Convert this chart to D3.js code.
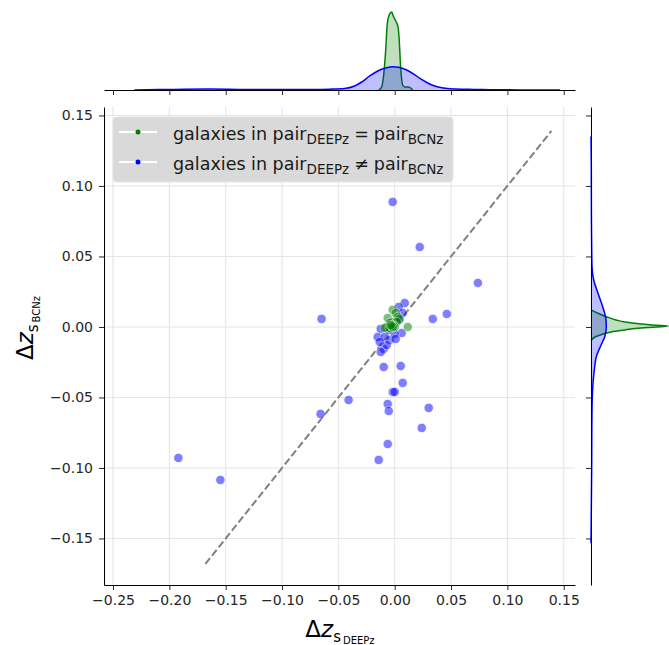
<!DOCTYPE html>
<html>
<head>
<meta charset="utf-8">
<script src="https://cdn.jsdelivr.net/npm/d3@7"></script>
<style>
  body { margin: 0; background: #fff; }
  svg { display: block; font-family: "DejaVu Sans", sans-serif; }
</style>
</head>
<body>
<svg id="chart" width="669" height="645"></svg>
<script>
// scatter points, galaxies whose pair differs (blue)
var blueX = [-0.0018, 0.0222, 0.0738, 0.0462, 0.0338, -0.0649, -0.0658, -0.0409, -0.192, -0.1547,
  -0.0142, -0.0062, -0.0018, 0.0, -0.0062, -0.0053, 0.024, 0.0302, 0.0071, 0.0053,
  -0.0098, -0.0098, 0.0089, 0.0036, 0.0071, -0.0124, -0.0151, -0.0089, -0.0044, -0.0071,
  -0.0124, 0.0062, 0.0, -0.0053, 0.0009, -0.0133, -0.0036, 0.0036];
var blueY = [0.0887, 0.0567, 0.0312, 0.0092, 0.0057, 0.0057, -0.0617, -0.0518, -0.0929, -0.1085,
  -0.0943, -0.083, -0.0461, -0.0461, -0.0546, -0.0596, -0.0716, -0.0574, -0.0397, -0.0277,
  -0.0284, -0.0156, 0.017, 0.0142, 0.0099, -0.0014, -0.0071, -0.0071, -0.0092, -0.0128,
  -0.0177, -0.0043, -0.005, -0.0021, -0.0085, -0.0106, 0.0021, 0.005];

// galaxies whose pair is the same (green)
var greenX = [-0.0018, 0.0009, 0.0027, -0.0062, 0.0044, -0.0027, 0.0018, -0.0044, -0.0018, -0.0036,
  -0.0027, -0.0009, -0.0071, -0.0089, -0.0044, 0.0, 0.0116, -0.0027, -0.0018, -0.0036];
var greenY = [0.0121, 0.0099, 0.0071, 0.0064, 0.0057, 0.0035, 0.0035, 0.0028, 0.0014, 0.0007,
  0.0, 0.0007, 0.0, -0.0007, -0.0007, 0.0, 0.0, 0.0007, 0.0, 0.0014];

// marginal density curves: [position, density]
var kdeTopGreen = [[-0.0142, 0], [-0.0116, 1.08], [-0.0098, 5.38], [-0.008, 14.36], [-0.0067, 23.33],
  [-0.0049, 26.92], [-0.0027, 28.0], [-0.0013, 26.56], [0.0, 25.48], [0.0018, 24.05], [0.0031, 22.25],
  [0.004, 17.95], [0.0049, 10.77], [0.0058, 5.38], [0.0071, 1.79], [0.0089, 1.08], [0.0116, 1.08],
  [0.0142, 0.72], [0.016, 0]];
var kdeTopBlue = [[-0.2311, 0], [-0.2089, 0.14], [-0.1867, 0.29], [-0.1644, 0.32], [-0.1378, 0.22],
  [-0.1022, 0.14], [-0.0756, 0.18], [-0.0578, 0.29], [-0.0444, 0.54], [-0.0356, 1.44], [-0.0293, 2.87],
  [-0.0222, 5.03], [-0.0151, 6.82], [-0.008, 7.9], [-0.0018, 8.36], [0.0044, 8.11], [0.0107, 7.18],
  [0.0169, 5.74], [0.0231, 3.95], [0.0293, 2.51], [0.0356, 1.44], [0.0418, 0.79], [0.0489, 0.43],
  [0.0596, 0.25], [0.0711, 0.22], [0.0844, 0.11], [0.1111, 0.04], [0.1467, 0]];
var kdeRightGreen = [[0.0121, 0], [0.0097, 2.51], [0.0071, 5.74], [0.005, 8.97], [0.0035, 12.2],
  [0.0021, 17.95], [0.0012, 23.33], [0.0007, 27.64], [0.0, 23.33], [-0.0007, 17.95], [-0.0021, 12.2],
  [-0.0035, 7.18], [-0.0055, 3.59], [-0.0071, 1.44], [-0.0099, 0]];
var kdeRightBlue = [[0.135, 0], [0.1137, 0.11], [0.083, 0.14], [0.0617, 0.22], [0.0428, 0.36],
  [0.0333, 0.97], [0.0239, 2.51], [0.0144, 4.2], [0.005, 5.38], [-0.0002, 5.49], [-0.0069, 4.92],
  [-0.014, 3.34], [-0.0211, 1.9], [-0.0282, 1.33], [-0.0399, 0.72], [-0.0518, 0.43], [-0.0754, 0.29],
  [-0.0991, 0.25], [-0.1227, 0.14], [-0.1534, 0]];

var xTicks = [-0.25, -0.20, -0.15, -0.10, -0.05, 0.00, 0.05, 0.10, 0.15];
var yTicks = [-0.15, -0.10, -0.05, 0.00, 0.05, 0.10, 0.15];
var diagonal = [-0.168, 0.139];

var svg = d3.select("#chart");

var x = d3.scaleLinear().domain([-0.258, 0.160]).range([104, 575]);
var y = d3.scaleLinear().domain([-0.183, 0.156]).range([585, 107]);
var topD = d3.scaleLinear().domain([0, 32.3]).range([90, 0]);
var rightD = d3.scaleLinear().domain([0, 32.3]).range([591, 681]);

// grid
var grid = svg.append("g").attr("stroke", "#e6e6e6").attr("stroke-width", 1.1);
grid.selectAll(".gx").data(xTicks).enter().append("line")
  .attr("x1", d => x(d)).attr("x2", d => x(d)).attr("y1", 107).attr("y2", 585);
grid.selectAll(".gy").data(yTicks).enter().append("line")
  .attr("x1", 104).attr("x2", 575).attr("y1", d => y(d)).attr("y2", d => y(d));

// identity line
svg.append("line")
  .attr("x1", x(diagonal[0])).attr("y1", y(diagonal[0]))
  .attr("x2", x(diagonal[1])).attr("y2", y(diagonal[1]))
  .attr("stroke", "#808080").attr("stroke-width", 2)
  .attr("stroke-dasharray", "7.4,3.2");

// scatter
function drawPoints(xs, ys, color) {
  svg.append("g").selectAll("circle").data(xs).enter().append("circle")
    .attr("cx", d => x(d))
    .attr("cy", (d, i) => y(ys[i]))
    .attr("r", 4.7)
    .attr("fill", color)
    .attr("stroke", "#fff")
    .attr("stroke-width", 0.8)
    .attr("opacity", 0.5);
}
drawPoints(blueX, blueY, "blue");
drawPoints(greenX, greenY, "green");

// axes
function styleAxis(g) {
  g.selectAll("text").attr("font-family", "DejaVu Sans").attr("font-size", 14).attr("fill", "#262626");
  g.selectAll("line").attr("stroke", "#262626");
  g.select(".domain").attr("stroke", "#000").attr("stroke-width", 1);
}
var fmt = d3.format(".2f");
svg.append("g").attr("transform", "translate(0,585)")
  .call(d3.axisBottom(x).tickValues(xTicks).tickFormat(fmt).tickSize(5).tickSizeOuter(0).tickPadding(5))
  .call(styleAxis);
svg.append("g").attr("transform", "translate(104,0)")
  .call(d3.axisLeft(y).tickValues(yTicks).tickFormat(fmt).tickSize(5).tickSizeOuter(0).tickPadding(6))
  .call(styleAxis);

// top marginal
var topArea = d3.area().x(d => x(d[0])).y0(topD(0)).y1(d => topD(d[1])).curve(d3.curveMonotoneX);
var topLine = d3.line().x(d => x(d[0])).y(d => topD(d[1])).curve(d3.curveMonotoneX);
[[kdeTopGreen, "green"], [kdeTopBlue, "blue"]].forEach(function (s) {
  svg.append("path").attr("d", topArea(s[0])).attr("fill", s[1]).attr("fill-opacity", 0.25);
  svg.append("path").attr("d", topLine(s[0])).attr("fill", "none").attr("stroke", s[1]).attr("stroke-width", 1.5);
});
svg.append("g").attr("transform", "translate(0,90)")
  .call(d3.axisBottom(x).tickValues(xTicks).tickFormat("").tickSize(5).tickSizeOuter(0))
  .call(styleAxis);

// right marginal
var rightArea = d3.area().y(d => y(d[0])).x0(rightD(0)).x1(d => rightD(d[1])).curve(d3.curveMonotoneY);
var rightLine = d3.line().y(d => y(d[0])).x(d => rightD(d[1])).curve(d3.curveMonotoneY);
[[kdeRightGreen, "green"], [kdeRightBlue, "blue"]].forEach(function (s) {
  var pts = s[0].slice().reverse();
  svg.append("path").attr("d", rightArea(pts)).attr("fill", s[1]).attr("fill-opacity", 0.25);
  svg.append("path").attr("d", rightLine(pts)).attr("fill", "none").attr("stroke", s[1]).attr("stroke-width", 1.5);
});
svg.append("g").attr("transform", "translate(591,0)")
  .call(d3.axisLeft(y).tickValues(yTicks).tickFormat("").tickSize(5).tickSizeOuter(0))
  .call(styleAxis);

// axis labels
function mathLabel(t, sub) {
  t.append("tspan").text("Δ");
  t.append("tspan").attr("font-style", "italic").text("z");
  t.append("tspan").attr("font-size", 15).attr("dy", 5).text("s");
  t.append("tspan").attr("font-size", 10).attr("dy", 2).attr("dx", 2).text(sub);
}
var xl = svg.append("text").attr("x", 340).attr("y", 637)
  .attr("text-anchor", "middle").attr("font-size", 23).attr("fill", "#000");
mathLabel(xl, "DEEPz");
var yl = svg.append("text").attr("transform", "translate(33,328) rotate(-90)")
  .attr("text-anchor", "middle").attr("font-size", 23).attr("fill", "#000");
mathLabel(yl, "BCNz");

// legend
var legend = svg.append("g");
legend.append("rect").attr("x", 113).attr("y", 117).attr("width", 340).attr("height", 65)
  .attr("rx", 4).attr("fill", "#d9d9d9").attr("stroke", "#e4e4e4");
var entries = [["green", "="], ["blue", "≠"]];
entries.forEach(function (e, i) {
  var cy = 132 + i * 30;
  legend.append("line").attr("x1", 119).attr("x2", 157).attr("y1", cy).attr("y2", cy)
    .attr("stroke", "#fff").attr("stroke-width", 2);
  legend.append("circle").attr("cx", 138).attr("cy", cy).attr("r", 2.5).attr("fill", e[0]);
  var t = legend.append("text").attr("x", 173).attr("y", cy + 8).attr("font-size", 17.5).attr("fill", "#1a1a1a");
  t.append("tspan").text("galaxies in pair");
  t.append("tspan").attr("font-size", 13.5).attr("dy", 4).text("DEEPz");
  t.append("tspan").attr("dy", -4).attr("dx", 5).text(e[1]);
  t.append("tspan").attr("dx", 5).text("pair");
  t.append("tspan").attr("font-size", 13.5).attr("dy", 4).text("BCNz");
});
</script>
</body>
</html>
